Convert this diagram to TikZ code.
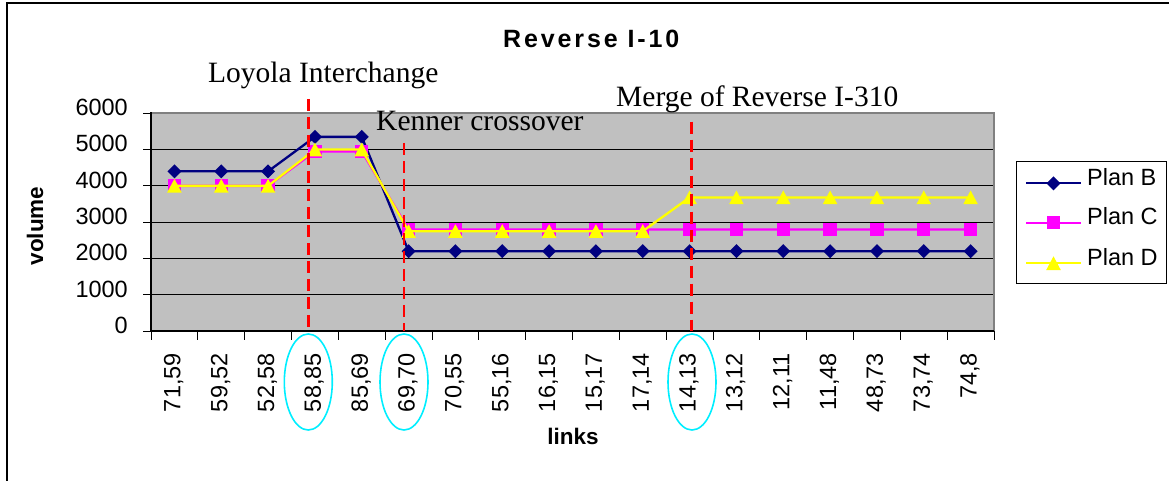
\documentclass[tikz,border=0pt]{standalone}
\usepackage{fontspec}
\setmainfont{Liberation Serif}
\newfontfamily\arial{Liberation Sans}
\newfontfamily\arialsp[LetterSpace=11.5]{Liberation Sans}
\usetikzlibrary{plotmarks}
\definecolor{navyB}{RGB}{0,0,128}
\definecolor{magC}{RGB}{255,0,255}
\definecolor{yelD}{RGB}{255,255,0}
\definecolor{plotbg}{RGB}{192,192,192}
\definecolor{plotbd}{RGB}{128,128,128}
\definecolor{ringc}{RGB}{0,238,255}
\pgfdeclareplotmark{xdia}{%
  \pgfpathmoveto{\pgfqpoint{0pt}{7pt}}%
  \pgfpathlineto{\pgfqpoint{7pt}{0pt}}%
  \pgfpathlineto{\pgfqpoint{0pt}{-7pt}}%
  \pgfpathlineto{\pgfqpoint{-7pt}{0pt}}%
  \pgfpathclose\pgfusepathqfill}
\pgfdeclareplotmark{xsq}{%
  \pgfpathrectangle{\pgfqpoint{-6.6pt}{-6.6pt}}{\pgfqpoint{13.2pt}{13.2pt}}%
  \pgfusepathqfill}
\pgfdeclareplotmark{xtri}{%
  \pgfpathmoveto{\pgfqpoint{0pt}{7pt}}%
  \pgfpathlineto{\pgfqpoint{7.3pt}{-6.7pt}}%
  \pgfpathlineto{\pgfqpoint{-7.3pt}{-6.7pt}}%
  \pgfpathclose\pgfusepathqfill}
\tikzset{
  serB/.style={draw=navyB, line width=2.3pt, line join=round, mark=xdia, mark options={fill=navyB, draw=none}},
  serC/.style={draw=magC, line width=2.3pt, line join=round, mark=xsq, mark options={fill=magC, draw=none}},
  serD/.style={draw=yelD, line width=2.3pt, line join=round, mark=xtri, mark options={fill=yelD, draw=none}},
  marker/.style={line width=2.6pt, line cap=butt, dash pattern=on 12pt off 6pt, draw=red},
  ring/.style={draw=ringc, line width=1.6pt},
  ticklab/.style={inner sep=0pt, font=\arial\fontsize{23.5}{26}\selectfont},
  ylab/.style={inner sep=0pt, font=\arial\fontsize{23.5}{26}\selectfont},
  annot/.style={inner sep=0pt, font=\fontsize{29.5}{32}\selectfont},
  legtext/.style={inner sep=0pt, font=\arial\fontsize{23.5}{26}\selectfont},
}
\begin{document}
\begin{tikzpicture}[x=1pt, y=-1pt]
\useasboundingbox (0,0) rectangle (1169,481);
% outer frame
\draw[line width=2pt] (6.5,495) -- (6.5,3.5) -- (1190,3.5);
% plot area
\fill[plotbg] (151,113.3) rectangle (994,331);
\foreach \g in {1000,2000,3000,4000,5000}
  \draw[black, line width=1pt] (151,{331-\g*0.036283}) -- (994,{331-\g*0.036283});
\draw[plotbd, line width=2pt] (151,113.3) -- (994,113.3) -- (994,331);
\draw[black, line width=1.5pt] (151,112.5) -- (151,331) -- (994,331);
\foreach \g in {0,1000,...,6000}
  \draw[black, line width=1pt] (143,{331-\g*0.036283}) -- (151,{331-\g*0.036283});
\foreach \k in {0,...,18}
  \draw[black, line width=1pt] ({151+\k*46.833},331) -- ({151+\k*46.833},339.5);
% series
\begin{scope}[shift={(151pt,-331pt)}, x=46.833pt, y=0.036283pt]
\draw[serB] plot coordinates {(0.5,4400) (1.5,4400) (2.5,4400) (3.5,5350) (4.5,5350) (5.5,2200) (6.5,2200) (7.5,2200) (8.5,2200) (9.5,2200) (10.5,2200) (11.5,2200) (12.5,2200) (13.5,2200) (14.5,2200) (15.5,2200) (16.5,2200) (17.5,2200)};
\draw[serC] plot coordinates {(0.5,4000) (1.5,4000) (2.5,4000) (3.5,4950) (4.5,4950) (5.5,2800) (6.5,2800) (7.5,2800) (8.5,2800) (9.5,2800) (10.5,2800) (11.5,2800) (12.5,2800) (13.5,2800) (14.5,2800) (15.5,2800) (16.5,2800) (17.5,2800)};
\draw[serD] plot coordinates {(0.5,4000) (1.5,4000) (2.5,4000) (3.5,5000) (4.5,5000) (5.5,2750) (6.5,2750) (7.5,2750) (8.5,2750) (9.5,2750) (10.5,2750) (11.5,3680) (12.5,3680) (13.5,3680) (14.5,3680) (15.5,3680) (16.5,3680) (17.5,3680)};
\end{scope}
% red dashed markers
\draw[marker] (308.3,99) -- (308.3,331);
\draw[marker] (404,143) -- (404,331);
\draw[marker] (691.7,121.7) -- (691.7,331);
% cyan rings
\draw[ring] (308.3,382) ellipse [x radius=24, y radius=48];
\draw[ring] (404,382) ellipse [x radius=24, y radius=48];
\draw[ring] (692,382) ellipse [x radius=24, y radius=48];
% y labels
\foreach \v [count=\j from 0] in {0,1000,2000,3000,4000,5000,6000}
  \node[ylab, anchor=mid east] (yl\j) at (128,{331-\v*0.036283}) {\v};
% x labels
\foreach \lab [count=\i from 0] in {{71,59},{59,52},{52,58},{58,85},{85,69},{69,70},{70,55},{55,16},{16,15},{15,17},{17,14},{14,13},{13,12},{12,11},{11,48},{48,73},{73,74},{74,8}}
  \node[ticklab, rotate=90, anchor=base east] (xl\i) at ({151+(\i+0.5)*46.833+6},353) {\lab};
% titles
\node[inner sep=0pt, anchor=base west, font=\arialsp\bfseries\fontsize{25}{28}\selectfont] (title) at (503,47.3) {Reverse I-10};
\node[inner sep=0pt, anchor=base, font=\arial\bfseries\fontsize{22.5}{26}\selectfont] (xtitle) at (573,444) {links};
\node[inner sep=0pt, anchor=base, rotate=90, font=\arial\bfseries\fontsize{22.5}{26}\selectfont] (ytitle) at (43,226) {volume};
% annotations
\node[annot, anchor=base west] (loyola) at (208,82.7) {Loyola Interchange};
\node[annot, anchor=base west] (kenner) at (376,130.7) {Kenner crossover};
\node[annot, anchor=base west] (merge) at (616,106.7) {Merge of Reverse I-310};
% legend
\draw[black, line width=1pt] (1016.7,161.7) rectangle (1166.7,283);
\draw[serB, mark=none] plot coordinates {(1026,183.3) (1081,183.3)};
\path[serB] plot[only marks] coordinates {(1053.5,183.3)};
\draw[serC, mark=none] plot coordinates {(1026,222.7) (1081,222.7)};
\path[serC] plot[only marks] coordinates {(1053.5,222.7)};
\draw[serD, mark=none] plot coordinates {(1026,263.3) (1081,263.3)};
\path[serD] plot[only marks] coordinates {(1053.5,263.3)};
\node[legtext, anchor=mid west] (lb) at (1087,183.3) {Plan B};
\node[legtext, anchor=mid west] (lc) at (1087,222.7) {Plan C};
\node[legtext, anchor=mid west] (ld) at (1087,263.3) {Plan D};
\end{tikzpicture}
\end{document}
